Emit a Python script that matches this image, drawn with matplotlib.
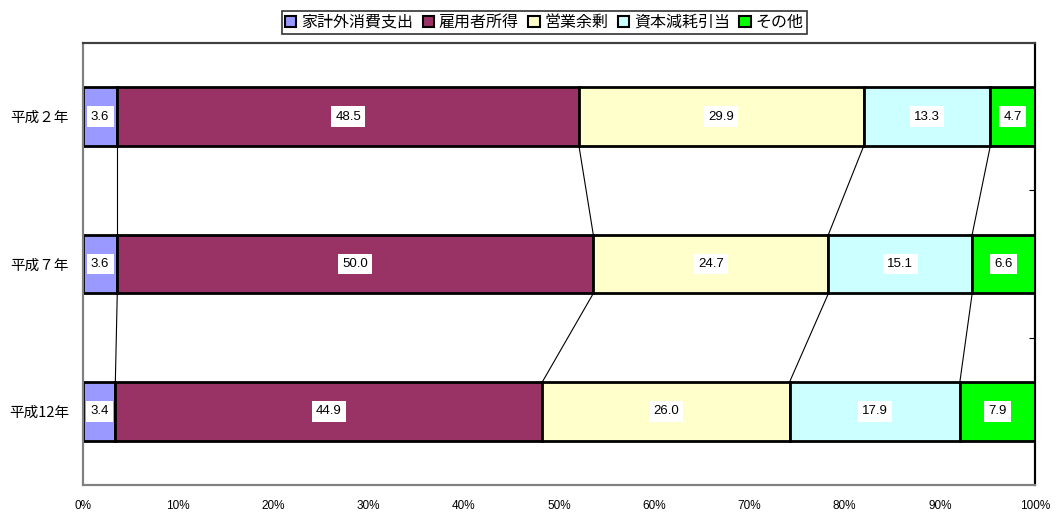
import matplotlib
matplotlib.use("Agg")
from matplotlib import pyplot as plt
import numpy as np

plt.rcParams['font.family'] = ['Noto Sans CJK JP', 'DejaVu Sans']

# data
years = ['平成２年', '平成７年', '平成12年']
series = ['家計外消費支出', '雇用者所得', '営業余剰', '資本減耗引当', 'その他']
values = [
    [3.6, 3.6, 3.4],
    [48.5, 50.0, 44.9],
    [29.9, 24.7, 26.0],
    [13.3, 15.1, 17.9],
    [4.7, 6.6, 7.9],
]
colors = ['#9999FF', '#993366', '#FFFFCC', '#CCFFFF', '#00FF00']
xticks = [0, 10, 20, 30, 40, 50, 60, 70, 80, 90, 100]

fig = plt.figure(figsize=(10.57, 5.15), dpi=100)
ax = fig.add_axes([83/1057, 1-485/515, (1035-83)/1057, 442/515])

ypos = np.arange(len(years))[::-1]  # top row first
h = 0.4
vals = np.array(values)
totals = vals.sum(axis=0)
pct = vals / totals * 100
left = np.zeros(len(years))
for i, name in enumerate(series):
    ax.barh(ypos, pct[i], left=left, height=h, color=colors[i],
            edgecolor='black', linewidth=2, label=name, zorder=3)
    for j in range(len(years)):
        ax.text(left[j] + pct[i][j] / 2, ypos[j], f'{values[i][j]:.1f}',
                ha='center', va='center', fontsize=9.5, family='Liberation Sans',
                bbox=dict(facecolor='white', edgecolor='none', pad=3), zorder=5)
    left = left + pct[i]
    # series lines between bars
    if i < len(series) - 1:
        for j in range(len(years) - 1):
            ax.plot([left[j], left[j + 1]], [ypos[j] - h / 2, ypos[j + 1] + h / 2],
                    color='black', linewidth=0.8, zorder=2)

ax.set_xlim(0, 100)
ax.set_ylim(-0.5, 2.5)
ax.set_xticks(xticks)
ax.set_xticklabels([f'{t}%' for t in xticks], family='Liberation Sans', fontsize=8.5)
ax.tick_params(axis='x', length=0, pad=11)
ax.set_yticks(ypos)
ax.set_yticklabels(years, fontsize=10.5)
ax.tick_params(axis='y', length=0, pad=10)

# right side ticks between categories
ax2 = ax.twinx()
ax2.set_ylim(-0.5, 2.5)
ax2.set_yticks([0.5, 1.5])
ax2.set_yticklabels([])
ax2.tick_params(axis='y', direction='in', length=4, color='black')
for a in (ax, ax2):
    a.spines['left'].set_color('#808080')
    a.spines['bottom'].set_color('#808080')
    a.spines['top'].set_color('#404040')
    a.spines['right'].set_color('black')
    for s in a.spines.values():
        s.set_linewidth(1.5)

leg = fig.legend(*ax.get_legend_handles_labels(), loc='upper center',
                 bbox_to_anchor=(0.515, 0.995), ncol=5, fontsize=11.5,
                 frameon=True, fancybox=False, edgecolor='black',
                 handlelength=0.7, handleheight=0.7, handletextpad=0.3,
                 columnspacing=0.6, borderpad=0.2)
for p in leg.get_patches():
    p.set_linewidth(1.5)
leg.get_frame().set_linewidth(1.2)

fig.savefig('out.png', dpi=100)
